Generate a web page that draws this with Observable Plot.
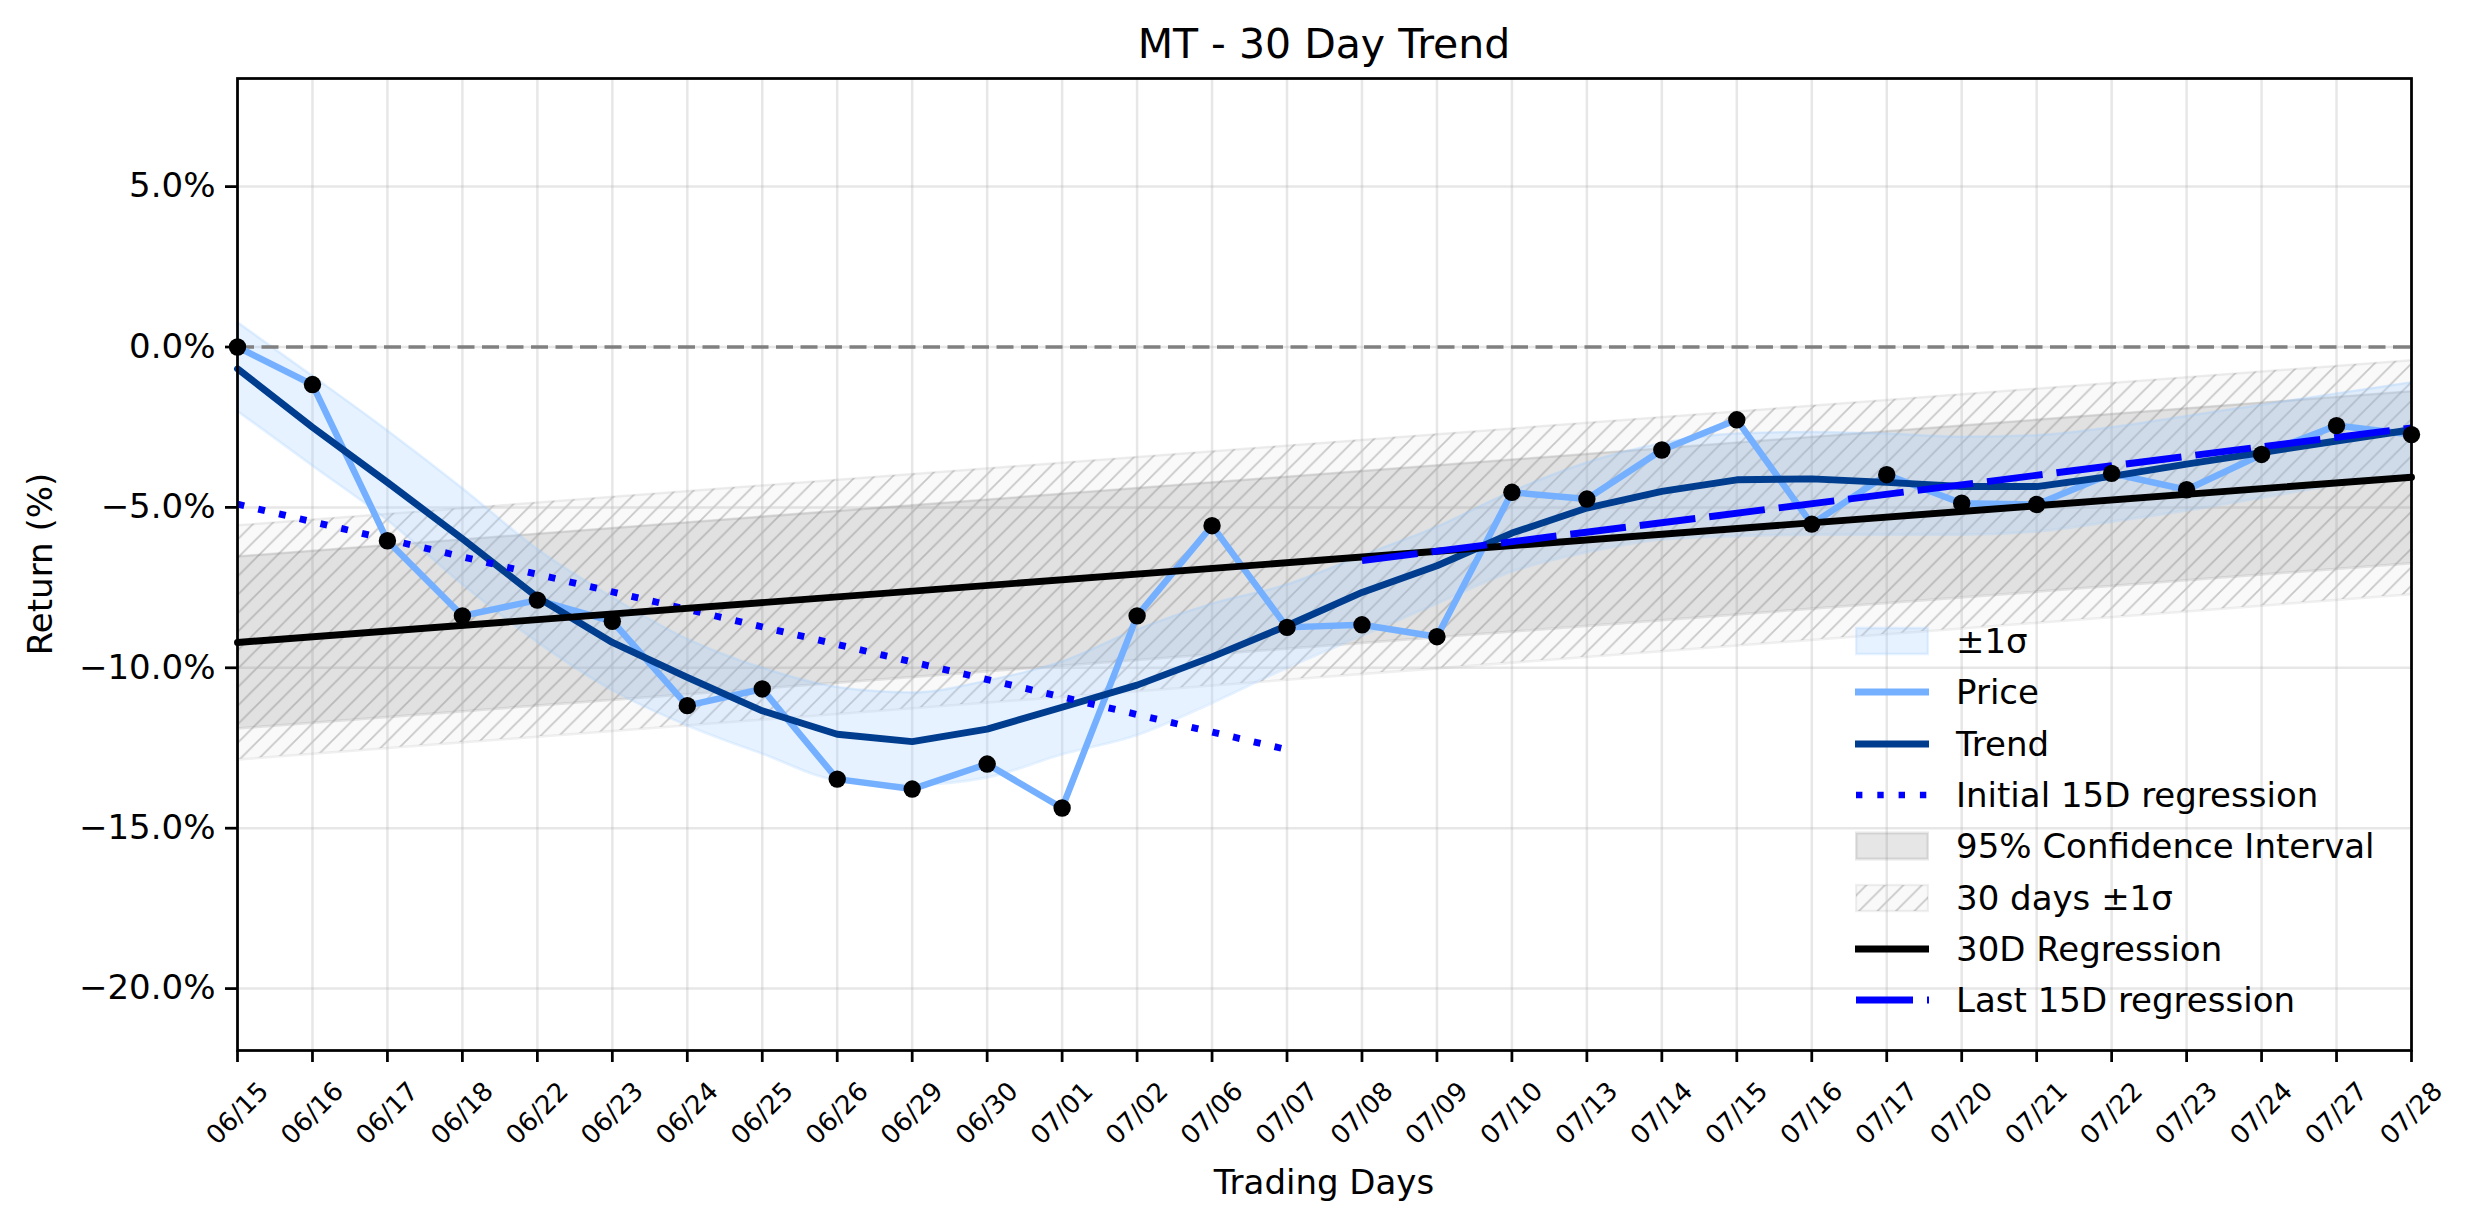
<!DOCTYPE html>
<html>
<head>
<meta charset="utf-8">
<script src="https://cdn.jsdelivr.net/npm/d3@7"></script>
<script src="https://cdn.jsdelivr.net/npm/@observablehq/plot@0.6"></script>
<style>
  body { margin: 0; background: #fff; font-family: "DejaVu Sans", sans-serif; color: #000; }
  #wrap { position: relative; width: 2474px; height: 1224px; overflow: hidden; }
  #chart { position: absolute; left: 0; top: 0; }
  .lbl { position: absolute; white-space: nowrap; }
  #title { left: 237px; width: 2174px; top: 20px; height: 48px; line-height: 48px; text-align: center; font-size: 41px; }
  #xlabel { left: 237px; width: 2174px; top: 1162px; height: 40px; line-height: 40px; text-align: center; font-size: 34px; }
  #ylabel { left: -460px; top: 544px; width: 1000px; height: 40px; line-height: 40px; text-align: center; font-size: 34px; transform: rotate(-90deg); transform-origin: 500px 20px; }
  .leg { position: absolute; left: 1855px; height: 40px; display: flex; align-items: center; font-size: 34px; white-space: nowrap; }
  .leg svg { width: 74px; height: 40px; margin-right: 27px; flex: none; }
</style>
</head>
<body>
<div id="wrap">
  <div id="chart"></div>
  <div id="title" class="lbl">MT - 30 Day Trend</div>
  <div id="xlabel" class="lbl">Trading Days</div>
  <div id="ylabel" class="lbl">Return (%)</div>
  <div id="legend"></div>
</div>
<script>
// ---------- data ----------
const dates = ["06/15","06/16","06/17","06/18","06/22","06/23","06/24","06/25","06/26","06/29",
               "06/30","07/01","07/02","07/06","07/07","07/08","07/09","07/10","07/13","07/14",
               "07/15","07/16","07/17","07/20","07/21","07/22","07/23","07/24","07/27","07/28"];
const price = [0.00, -1.17, -6.04, -8.38, -7.89, -8.55, -11.18, -10.66, -13.47, -13.78,
               -13.00, -14.37, -8.38, -5.57, -8.74, -8.66, -9.03, -4.53, -4.74, -3.21,
               -2.27, -5.52, -3.98, -4.87, -4.91, -3.94, -4.45, -3.35, -2.45, -2.73];
const trend = [-0.68, -2.50, -4.22, -5.98, -7.80, -9.21, -10.30, -11.34, -12.07, -12.30,
               -11.91, -11.23, -10.54, -9.66, -8.69, -7.65, -6.82, -5.80, -5.02, -4.50,
               -4.14, -4.11, -4.22, -4.35, -4.35, -4.03, -3.65, -3.29, -2.93, -2.58];
const bandHigh = [0.77, -0.90, -2.60, -4.40, -6.30, -7.80, -9.10, -10.00, -10.60, -10.77,
                  -10.40, -9.80, -8.80, -8.00, -7.40, -6.50, -5.60, -4.50, -3.60, -3.00,
                  -2.70, -2.65, -2.70, -2.80, -2.75, -2.50, -2.15, -1.80, -1.45, -1.10];
const bandLow = [-2.00, -3.70, -5.40, -7.40, -9.20, -10.70, -11.80, -12.68, -13.50, -13.65,
                 -13.42, -12.70, -12.10, -11.10, -10.00, -9.00, -8.00, -7.00, -6.40, -6.00,
                 -5.90, -5.85, -5.85, -5.85, -5.75, -5.45, -5.10, -4.70, -4.30, -3.95];
const reg30 = [-9.21, -4.06];          // 30D regression at first and last day
const ci95Half = 2.68;                  // half width of 95% confidence band
const sigma30 = 3.65;                   // 30 days ±1σ half width
const initReg = [-4.90, -12.55];        // Initial 15D regression (day 0 -> day 14)
const initRegDays = [0, 14];
const lastReg = [-6.66, -2.52];         // Last 15D regression (day 15 -> day 29)
const lastRegDays = [15, 29];
const yTicks = [-20, -15, -10, -5, 0, 5];
const legendLabels = ["±1σ", "Price", "Trend", "Initial 15D regression", "95% Confidence Interval",
                      "30 days ±1σ", "30D Regression", "Last 15D regression"];

// ---------- colours ----------
const cPrice = "#74b0ff", cTrend = "#003d8f", cBlue = "#0000ff";
const cBand = "#9bcbff";

// ---------- tables ----------
const days = dates.map((d, i) => ({i, date: d, price: price[i], trend: trend[i], hi: bandHigh[i], lo: bandLow[i]}));
const lastIdx = dates.length - 1;
const reg = [0, lastIdx].map((x, k) => ({
  x, y: reg30[k],
  ciLo: reg30[k] - ci95Half, ciHi: reg30[k] + ci95Half,
  sLo: reg30[k] - sigma30, sHi: reg30[k] + sigma30
}));
const initRows = initRegDays.map((x, k) => ({x, y: initReg[k]}));
const lastRows = lastRegDays.map((x, k) => ({x, y: lastReg[k]}));

const fmtPct = d => (d < 0 ? "\u2212" : "") + Math.abs(d).toFixed(1) + "%";

const chart = Plot.plot({
  width: 2474, height: 1224,
  marginLeft: 237, marginRight: 63, marginTop: 78, marginBottom: 174,
  style: {fontFamily: "DejaVu Sans", fontSize: "34px", background: "white", color: "black"},
  x: {type: "linear", domain: [0, lastIdx]},
  y: {type: "linear", domain: [-21.93, 8.37]},
  marks: [
    Plot.gridX(days.map(d => d.i), {stroke: "#b0b0b0", strokeOpacity: 0.3, strokeWidth: 2.5}),
    Plot.gridY(yTicks, {stroke: "#b0b0b0", strokeOpacity: 0.3, strokeWidth: 2.5}),
    // 30 days ±1σ (hatched)
    Plot.areaY(reg, {x: "x", y1: "sLo", y2: "sHi", fill: "#808080", fillOpacity: 0.05}),
    Plot.areaY(reg, {x: "x", y1: "sLo", y2: "sHi", fill: "url(#hatch30)"}),
    Plot.line(reg, {x: "x", y: "sLo", stroke: "#808080", strokeOpacity: 0.12, strokeWidth: 2.5}),
    Plot.line(reg, {x: "x", y: "sHi", stroke: "#808080", strokeOpacity: 0.12, strokeWidth: 2.5}),
    // 95% CI
    Plot.areaY(reg, {x: "x", y1: "ciLo", y2: "ciHi", fill: "#808080", fillOpacity: 0.2}),
    Plot.line(reg, {x: "x", y: "ciLo", stroke: "#808080", strokeOpacity: 0.2, strokeWidth: 2.5}),
    Plot.line(reg, {x: "x", y: "ciHi", stroke: "#808080", strokeOpacity: 0.2, strokeWidth: 2.5}),
    // ±1σ band around trend
    Plot.areaY(days, {x: "i", y1: "lo", y2: "hi", fill: cBand, fillOpacity: 0.25, curve: "monotone-x"}),
    Plot.line(days, {x: "i", y: "lo", stroke: cBand, strokeOpacity: 0.25, strokeWidth: 2.5, curve: "monotone-x"}),
    Plot.line(days, {x: "i", y: "hi", stroke: cBand, strokeOpacity: 0.25, strokeWidth: 2.5, curve: "monotone-x"}),
    // zero line
    Plot.ruleY([0], {stroke: "#808080", strokeWidth: 3.5, strokeDasharray: "17,7.5"}),
    // price & trend
    Plot.line(days, {x: "i", y: "price", stroke: cPrice, strokeWidth: 6.5}),
    Plot.line(days, {x: "i", y: "trend", stroke: cTrend, strokeWidth: 6.9}),
    // regressions
    Plot.line(initRows, {x: "x", y: "y", stroke: cBlue, strokeWidth: 6.9, strokeDasharray: "6.9,14.4", strokeLinecap: "butt"}),
    Plot.line(reg, {x: "x", y: "y", stroke: "black", strokeWidth: 6.9}),
    Plot.line(lastRows, {x: "x", y: "y", stroke: cBlue, strokeWidth: 6.9, strokeDasharray: "56,14", strokeLinecap: "butt"}),
    // price dots
    Plot.dot(days, {x: "i", y: "price", r: 8.7, fill: "black"}),
    // axes
    Plot.axisY(yTicks, {tickSize: 12, tickPadding: 10, strokeWidth: 2.75, tickFormat: fmtPct, fontSize: 34, label: null}),
    Plot.axisX(days.map(d => d.i), {tickSize: 12, strokeWidth: 2.75, tickFormat: () => "", label: null}),
    Plot.text(days, {x: "i", text: "date", frameAnchor: "bottom", dy: 63, rotate: -45,
                     textAnchor: "middle", lineAnchor: "middle", fontSize: 26}),
    Plot.frame({stroke: "black", strokeWidth: 2.75})
  ]
});

// hatch pattern definition
const ns = "http://www.w3.org/2000/svg";
const defs = document.createElementNS(ns, "defs");
defs.innerHTML = `<pattern id="hatch30" patternUnits="userSpaceOnUse" width="18.5" height="18.5">
  <path d="M-2,2 L2,-2 M0,18.5 L18.5,0 M16.5,20.5 L20.5,16.5" stroke="#c8c8c8" stroke-width="1.8"/>
</pattern>
<pattern id="hatchLeg" patternUnits="userSpaceOnUse" width="18.5" height="18.5">
  <path d="M-2,2 L2,-2 M0,18.5 L18.5,0 M16.5,20.5 L20.5,16.5" stroke="#c8c8c8" stroke-width="1.8"/>
</pattern>`;
chart.prepend(defs);
document.getElementById("chart").appendChild(chart);

// ---------- legend ----------
const swatches = [
  `<rect x="1" y="7" width="72" height="26" fill="${cBand}" fill-opacity="0.25" stroke="${cBand}" stroke-opacity="0.25" stroke-width="2.5"/>`,
  `<line x1="0" x2="74" y1="20" y2="20" stroke="${cPrice}" stroke-width="6.9"/>`,
  `<line x1="0" x2="74" y1="20" y2="20" stroke="${cTrend}" stroke-width="6.9"/>`,
  `<line x1="1" x2="74" y1="20" y2="20" stroke="${cBlue}" stroke-width="6.4" stroke-dasharray="6.4,14.9"/>`,
  `<rect x="1" y="7" width="72" height="26" fill="#808080" fill-opacity="0.2" stroke="#808080" stroke-opacity="0.2" stroke-width="3"/>`,
  `<rect x="1" y="7" width="72" height="26" fill="#808080" fill-opacity="0.05"/><rect x="1" y="7" width="72" height="26" fill="url(#hatchLeg)" stroke="#808080" stroke-opacity="0.12" stroke-width="2.5"/>`,
  `<line x1="0" x2="74" y1="20" y2="20" stroke="black" stroke-width="6.9"/>`,
  `<line x1="1" x2="74" y1="20" y2="20" stroke="${cBlue}" stroke-width="6.9" stroke-dasharray="57,14"/>`
];
const legend = document.getElementById("legend");
legendLabels.forEach((lab, k) => {
  const row = document.createElement("div");
  row.className = "leg";
  row.style.top = (641 + k * 51.3 - 20) + "px";
  row.innerHTML = `<svg xmlns="${ns}" viewBox="0 0 74 40">${swatches[k]}</svg><span></span>`;
  row.querySelector("span").textContent = lab;
  legend.appendChild(row);
});
</script>
</body>
</html>
